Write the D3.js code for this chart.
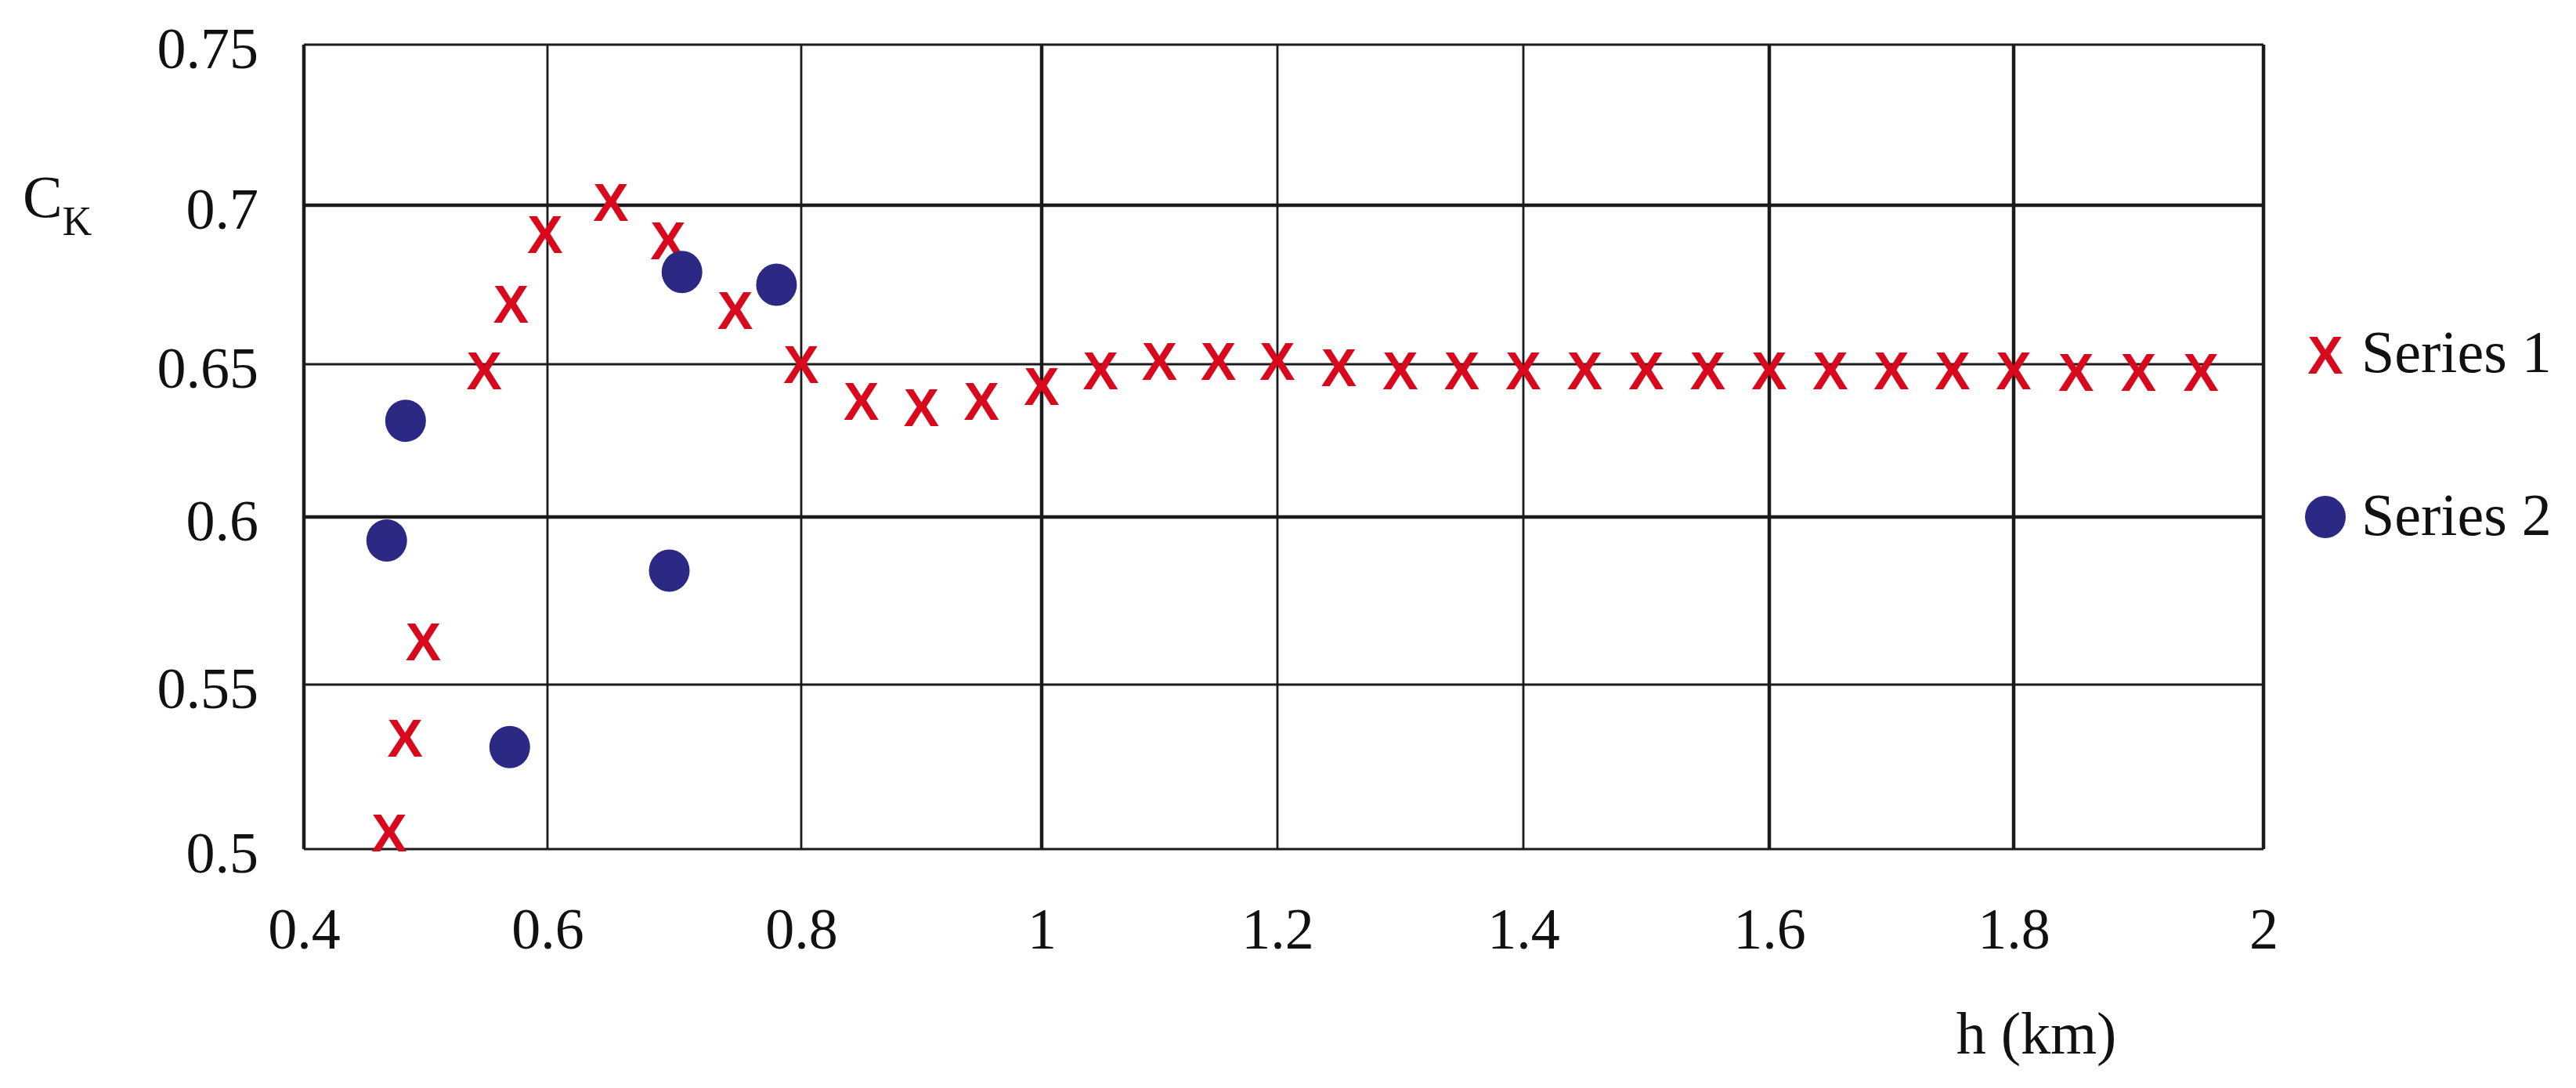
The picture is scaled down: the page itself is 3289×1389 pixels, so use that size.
<!DOCTYPE html>
<html>
<head>
<meta charset="utf-8">
<script src="https://cdnjs.cloudflare.com/ajax/libs/d3/7.8.5/d3.min.js"></script>
<style>
  body { margin: 0; background: #fff; }
  text { font-family: "Liberation Serif", "Times New Roman", serif; fill: #111; }
</style>
</head>
<body>
<script>

var width = 3289,
  height = 1389;

// Series 1 (red X markers): h (km) and C_K
var s1X = [0.47, 0.483, 0.498, 0.548, 0.57, 0.598, 0.65, 0.695, 0.748, 0.80, 0.85, 0.90, 0.95, 1.00,
  1.05, 1.10, 1.15, 1.20, 1.25, 1.30, 1.35, 1.40, 1.45, 1.50, 1.55, 1.60, 1.65, 1.70, 1.75, 1.80,
  1.85, 1.90, 1.95];
var s1Y = [0.505, 0.534, 0.563, 0.648, 0.669, 0.691, 0.701, 0.689, 0.667, 0.650, 0.638, 0.636, 0.638, 0.643,
  0.648, 0.651, 0.651, 0.651, 0.649, 0.648, 0.648, 0.648, 0.648, 0.648, 0.648, 0.648, 0.648, 0.648, 0.648, 0.648,
  0.6475, 0.6475, 0.6475];

// Series 2 (navy dots)
var s2X = [0.468, 0.4835, 0.569, 0.696, 0.706, 0.7805];
var s2Y = [0.593, 0.6315, 0.531, 0.584, 0.679, 0.675];

var xTicks = [0.4, 0.6, 0.8, 1, 1.2, 1.4, 1.6, 1.8, 2];
var xTickLabels = ["0.4", "0.6", "0.8", "1", "1.2", "1.4", "1.6", "1.8", "2"];
var yTicks = [0.5, 0.55, 0.6, 0.65, 0.7, 0.75];
var yTickLabels = ["0.5", "0.55", "0.6", "0.65", "0.7", "0.75"];
var seriesNames = ["Series 1", "Series 2"];

var red = "#d8091d",
  navy = "#2c2985";

var svg = d3.select("body").append("svg")
  .attr("width", width)
  .attr("height", height);

// the original grid is not quite evenly spaced, so map tick to tick
var x = d3.scaleLinear().domain(xTicks)
  .range([388, 699, 1023, 1330, 1631, 1945, 2259, 2571, 2890]);
var y = d3.scaleLinear().domain(yTicks)
  .range([1084, 874, 660, 465, 262, 57]);

var plotLeft = x(0.4), plotRight = x(2), plotTop = y(0.75), plotBottom = y(0.5);

// some grid lines come out heavier in the original
var heavyX = [0.4, 1, 1.6, 1.8, 2];
var heavyY = [0.6, 0.7];

svg.append("g").selectAll("line").data(xTicks).enter().append("line")
  .attr("x1", function(d){ return x(d); })
  .attr("x2", function(d){ return x(d); })
  .attr("y1", plotTop)
  .attr("y2", plotBottom)
  .attr("stroke", "#1b1b1b")
  .attr("stroke-width", function(d){ return heavyX.indexOf(d) >= 0 ? 4.5 : 2.8; });

svg.append("g").selectAll("line").data(yTicks).enter().append("line")
  .attr("x1", plotLeft)
  .attr("x2", plotRight)
  .attr("y1", function(d){ return y(d); })
  .attr("y2", function(d){ return y(d); })
  .attr("stroke", "#1b1b1b")
  .attr("stroke-width", function(d){ return heavyY.indexOf(d) >= 0 ? 4.5 : 2.8; });

// axes (labels only)
var xAxis = d3.axisBottom(x).tickValues(xTicks)
  .tickFormat(function(d, i){ return xTickLabels[i]; })
  .tickSize(0).tickPadding(74);
var yAxis = d3.axisLeft(y).tickValues(yTicks)
  .tickFormat(function(d, i){ return yTickLabels[i]; })
  .tickSize(0).tickPadding(58);

var gx = svg.append("g").attr("transform", "translate(0," + plotBottom + ")").call(xAxis);
var gy = svg.append("g").attr("transform", "translate(" + plotLeft + ",0)").call(yAxis);
[gx, gy].forEach(function(g){
  g.select(".domain").remove();
  g.selectAll("text")
    .attr("font-family", "Liberation Serif, serif")
    .attr("font-size", 74)
    .attr("fill", "#111");
});
gy.selectAll("text").attr("dy", "0.4em");

// axis titles
var ck = svg.append("text")
  .attr("x", 29)
  .attr("y", 277)
  .attr("font-size", 76);
ck.append("tspan").text("C");
ck.append("tspan").attr("font-size", 52).attr("dy", 23).text("K");

svg.append("text")
  .attr("x", 2600)
  .attr("y", 1345)
  .attr("text-anchor", "middle")
  .attr("font-size", 76)
  .text("h (km)");

var s1 = s1X.map(function(v, i){ return {x: v, y: s1Y[i]}; });
var s2 = s2X.map(function(v, i){ return {x: v, y: s2Y[i]}; });

// series 1 markers
svg.append("g").selectAll("text").data(s1).enter().append("text")
  .attr("x", function(d){ return x(d.x); })
  .attr("y", function(d){ return y(d.y); })
  .attr("dy", "0.36em")
  .attr("text-anchor", "middle")
  .style("font-family", "Liberation Sans, Arial, sans-serif")
  .style("font-weight", "bold")
  .style("font-size", "68px")
  .style("fill", red)
  .text("X");

// series 2 markers
svg.append("g").selectAll("ellipse").data(s2).enter().append("ellipse")
  .attr("cx", function(d){ return x(d.x); })
  .attr("cy", function(d){ return y(d.y); })
  .attr("rx", 26)
  .attr("ry", 27)
  .attr("fill", navy);

// legend
var legend = svg.append("g");
legend.append("text")
  .attr("x", 2969)
  .attr("y", 453)
  .attr("dy", "0.36em")
  .attr("text-anchor", "middle")
  .style("font-family", "Liberation Sans, Arial, sans-serif")
  .style("font-weight", "bold")
  .style("font-size", "68px")
  .style("fill", red)
  .text("X");
legend.append("ellipse")
  .attr("cx", 2969)
  .attr("cy", 660)
  .attr("rx", 26)
  .attr("ry", 27)
  .attr("fill", navy);
legend.selectAll("text.lbl").data(seriesNames).enter().append("text")
  .attr("class", "lbl")
  .attr("x", 3015)
  .attr("y", function(d, i){ return i == 0 ? 475 : 683; })
  .attr("font-size", 76)
  .text(function(d){ return d; });

</script>
</body>
</html>
